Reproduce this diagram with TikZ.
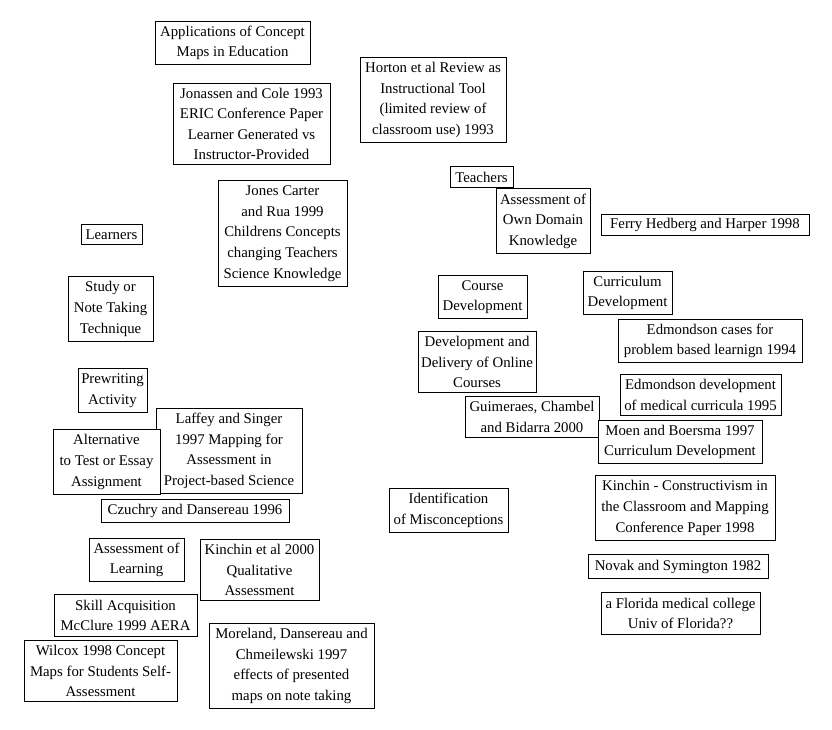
\documentclass[tikz,border=0pt]{standalone}
\usepackage{fontspec}
\setmainfont{Liberation Serif}
\tikzset{
  box/.style={draw=black, line width=0.8pt, fill=white, inner sep=0pt, align=center,
    font=\fontsize{14.8}{20.6}\selectfont}
}
\newcommand\bx[6]{\node[box,minimum width={(#4-#2)*1pt},minimum height={(#5-#3)*1pt}] (#1) at ({(#2+#4)/2},{(#3+#5)/2+0.5}) {#6};}
\begin{document}
\begin{tikzpicture}[x=1pt,y=-1pt]
\useasboundingbox[fill=white] (0,0) rectangle (832,729);
\bx{apps}{155}{21}{310}{64}{Applications of Concept\\Maps in Education}
\bx{jonassen}{173}{83}{330}{164}{Jonassen and Cole 1993\\ERIC Conference Paper\\Learner Generated vs\\Instructor-Provided}
\bx{horton}{360}{57}{506}{142}{Horton et al Review as\\Instructional Tool\\(limited review of\\classroom use) 1993}
\bx{jones}{218}{180}{347}{286}{Jones Carter\\and Rua 1999\\Childrens Concepts\\changing Teachers\\Science Knowledge}
\bx{learners}{81}{224}{142}{244}{Learners}
\bx{study}{68}{276}{153}{341}{Study or\\Note Taking\\Technique}
\bx{prewriting}{78}{368}{147}{412}{Prewriting\\Activity}
\bx{laffey}{156}{408}{302}{493}{Laffey and Singer\\1997 Mapping for\\Assessment in\\Project-based Science}
\bx{alternative}{53}{429}{160}{494}{Alternative\\to Test or Essay\\Assignment}
\bx{czuchry}{101}{499}{289}{522}{Czuchry and Dansereau 1996}
\bx{asslearning}{89}{538}{184}{581}{Assessment of\\Learning}
\bx{kinchin}{200}{539}{319}{600}{Kinchin et al 2000\\Qualitative\\Assessment}
\bx{skill}{54}{594}{197}{636}{Skill Acquisition\\McClure 1999 AERA}
\bx{wilcox}{24}{640}{177}{701}{Wilcox 1998 Concept\\Maps for Students Self-\\Assessment}
\bx{moreland}{209}{623}{374}{708}{Moreland, Dansereau and\\Chmeilewski 1997\\effects of presented\\maps on note taking}
\bx{teachers}{450}{166}{513}{187}{Teachers}
\bx{ownknow}{496}{188}{590}{253}{Assessment of\\Own Domain\\Knowledge}
\bx{ferry}{601}{214}{809}{235}{Ferry Hedberg and Harper 1998}
\bx{course}{438}{275}{527}{318}{Course\\Development}
\bx{curriculum}{583}{271}{672}{314}{Curriculum\\Development}
\bx{edcases}{618}{319}{802}{362}{Edmondson cases for\\problem based learnign 1994}
\bx{online}{418}{331}{536}{392}{Development and\\Delivery of Online\\Courses}
\bx{eddev}{620}{374}{781}{415}{Edmondson development\\of medical curricula 1995}
\bx{guimeraes}{465}{396}{599}{437}{Guimeraes, Chambel\\and Bidarra 2000}
\bx{moen}{598}{420}{762}{463}{Moen and Boersma 1997\\Curriculum Development}
\bx{misconc}{389}{488}{508}{532}{Identification\\of Misconceptions}
\bx{kinconst}{595}{475}{775}{540}{Kinchin - Constructivism in\\the Classroom and Mapping\\Conference Paper 1998}
\bx{novak}{588}{554}{768}{578}{Novak and Symington 1982}
\bx{florida}{601}{592}{760}{634}{a Florida medical college\\Univ of Florida??}
\end{tikzpicture}
\end{document}
